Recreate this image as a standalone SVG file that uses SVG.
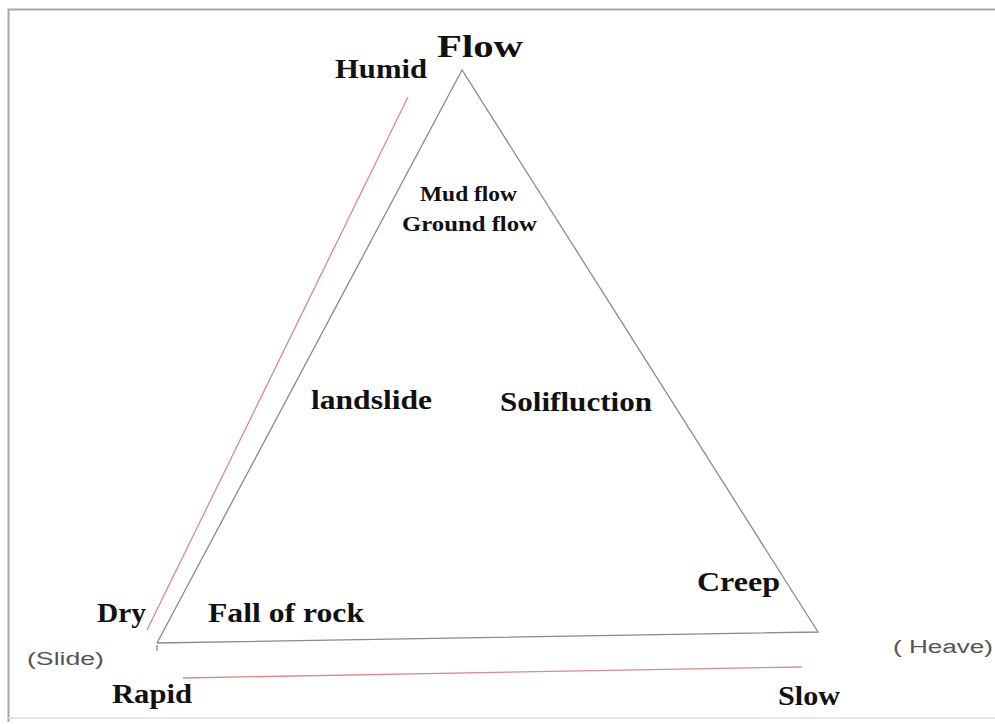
<svg xmlns="http://www.w3.org/2000/svg" width="995" height="724" viewBox="0 0 995 724">
<style>
.t{font-family:"Liberation Serif","Times New Roman",serif;font-weight:bold;fill:#111}
.s{font-family:"Liberation Sans",Arial,sans-serif;fill:#555}
.g{stroke:#8a8a8a;stroke-width:1.3;fill:none}
.r{stroke:#d98a8a;stroke-width:1.3;fill:none}
</style>
<rect x="0" y="0" width="995" height="724" fill="#fff"/>
<path d="M8.5 722 V9.5 H995" stroke="#a8a8a8" stroke-width="2" fill="none"/>
<line x1="8" y1="718" x2="995" y2="718" stroke="#ddd" stroke-width="1.5"/>
<g id="connectors">
<path class="g" d="M157 643 L462 70 L818 632 L157 643"/>
<line class="g" x1="157" y1="645" x2="157" y2="651"/>
<line class="r" x1="408" y1="97" x2="147" y2="630"/>
<line class="r" x1="183" y1="678" x2="802" y2="667"/>
</g>
<g id="flow"><text class="t" x="437" y="57" font-size="32" textLength="86" lengthAdjust="spacingAndGlyphs">Flow</text></g>
<g id="humid"><text class="t" x="335" y="78" font-size="27" textLength="92" lengthAdjust="spacingAndGlyphs">Humid</text></g>
<g id="mudflow"><text class="t" x="420" y="201" font-size="20" textLength="97" lengthAdjust="spacingAndGlyphs">Mud flow</text></g>
<g id="groundflow"><text class="t" x="402" y="231" font-size="20" textLength="135" lengthAdjust="spacingAndGlyphs">Ground flow</text></g>
<g id="landslide"><text class="t" x="311" y="409" font-size="27" textLength="121" lengthAdjust="spacingAndGlyphs">landslide</text></g>
<g id="solifluction"><text class="t" x="500" y="411" font-size="27" textLength="152" lengthAdjust="spacingAndGlyphs">Solifluction</text></g>
<g id="creep"><text class="t" x="697" y="591" font-size="27" textLength="83" lengthAdjust="spacingAndGlyphs">Creep</text></g>
<g id="fallofrock"><text class="t" x="208" y="622" font-size="27" textLength="156" lengthAdjust="spacingAndGlyphs">Fall of rock</text></g>
<g id="dry"><text class="t" x="97" y="622" font-size="27" textLength="49" lengthAdjust="spacingAndGlyphs">Dry</text></g>
<g id="slide"><text class="s" x="27" y="665" font-size="18" textLength="77" lengthAdjust="spacingAndGlyphs">(Slide)</text></g>
<g id="heave"><text class="s" x="893" y="653" font-size="18" textLength="100" lengthAdjust="spacingAndGlyphs">( Heave)</text></g>
<g id="rapid"><text class="t" x="112" y="703" font-size="27" textLength="80" lengthAdjust="spacingAndGlyphs">Rapid</text></g>
<g id="slow"><text class="t" x="778" y="705" font-size="27" textLength="62" lengthAdjust="spacingAndGlyphs">Slow</text></g>
</svg>
